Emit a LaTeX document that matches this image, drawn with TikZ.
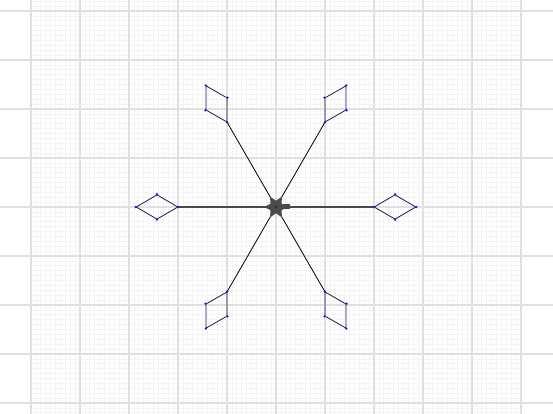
\documentclass[tikz,border=0pt]{standalone}
\usetikzlibrary{shapes.geometric,calc}
\definecolor{majorgrid}{HTML}{E0E0E0}
\definecolor{finegrid}{HTML}{F4F4F4}
\definecolor{hubgray}{HTML}{4A4A4A}
\definecolor{edgecol}{HTML}{1C1C4A}
\definecolor{vtxblue}{HTML}{1A1AFF}
\tikzset{
  rhomb/.style={diamond, draw=edgecol, line width=0.8pt, minimum width=42pt, minimum height=24.6pt, inner sep=0pt},
  spoke/.style={draw=black, line width=0.8pt},
  hspoke/.style={draw=hubgray, line width=1.4pt},
  vtx/.style={fill=vtxblue},
  hubstar/.style={star, star points=6, star point ratio=1.9, minimum size=24pt, inner sep=0pt, fill=hubgray, shape border rotate=30}
}
\begin{document}
\begin{tikzpicture}[x=1pt,y=1pt]
\useasboundingbox (0,0) rectangle (553,414);
\fill[white] (0,0) rectangle (553,414);
\begin{scope}[shift={(31,11)}]
  \draw[finegrid, line width=0.7pt, step=4.9] (0,-11) grid (490,403);
  \draw[majorgrid, line width=1.1pt, step=49] (-31,-11) grid (522,403);
\end{scope}
% hub
\coordinate (c) at (276,207);
% diamonds
\node[rhomb, rotate=0]   (dR)  at ($(c)+(0:119)$) {};
\node[rhomb, rotate=60]  (dUR) at ($(c)+(60:119)$) {};
\node[rhomb, rotate=120] (dUL) at ($(c)+(120:119)$) {};
\node[rhomb, rotate=180] (dL)  at ($(c)+(180:119)$) {};
\node[rhomb, rotate=240] (dLL) at ($(c)+(240:119)$) {};
\node[rhomb, rotate=300] (dLR) at ($(c)+(300:119)$) {};
% spokes
\draw[hspoke] (c) -- (dR.west);
\draw[hspoke] (c) -- (dL.west);
\draw[spoke] (c) -- (dUR.west);
\draw[spoke] (c) -- (dUL.west);
\draw[spoke] (c) -- (dLL.west);
\draw[spoke] (c) -- (dLR.west);
\node[hubstar] (hub) at (c) {};
\fill[hubgray] (283,204.5) rectangle (290,209.5);
\fill[edgecol] (c) circle (1.2);
% vertex markers
\foreach \d in {dR,dUR,dUL,dL,dLL,dLR}{
  \foreach \a in {north,south,east,west}{
    \fill[vtx] (\d.\a) circle (1.3);
  }
}
\end{tikzpicture}
\end{document}
